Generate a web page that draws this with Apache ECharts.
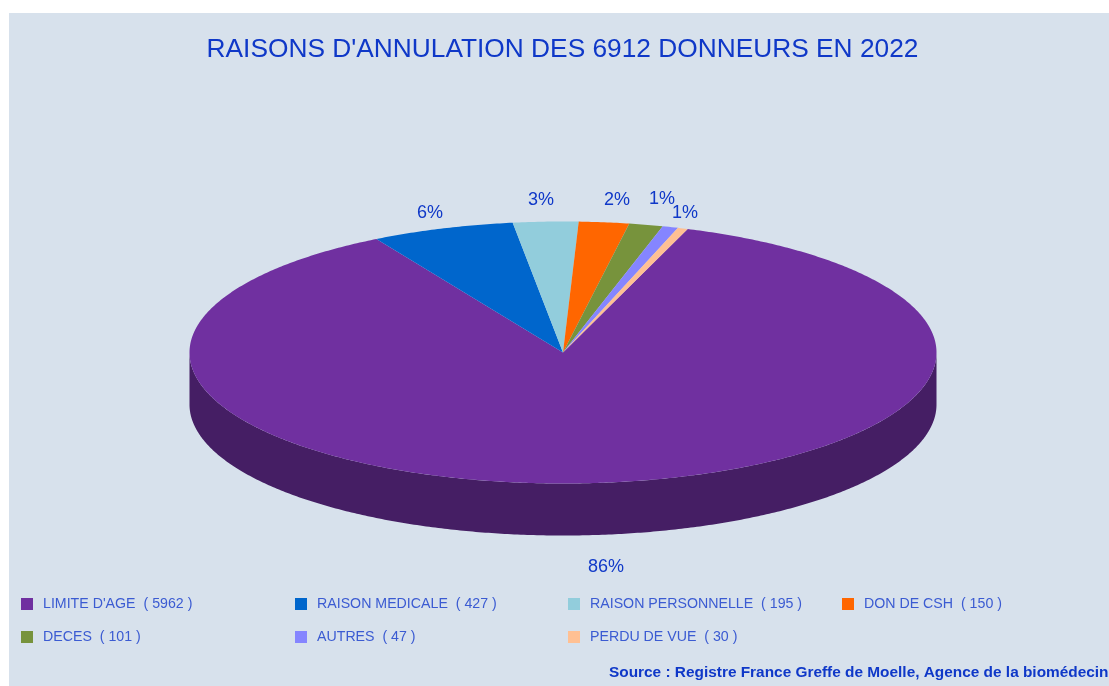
<!DOCTYPE html>
<html>
	<head>
		<meta charset="utf-8">
		<title>Raisons d'annulation</title>
		<style>
			html,body{margin:0;padding:0;background:#fff;}
			#main{width:1109px;height:686px;}
		</style>
	</head>
	<body>
		<div id="main"></div>
		<script src="https://cdn.jsdelivr.net/npm/echarts@6/dist/echarts.min.js"></script>
		<script>
			var categories = ["LIMITE D'AGE",'RAISON MEDICALE','RAISON PERSONNELLE','DON DE CSH','DECES','AUTRES','PERDU DE VUE'];
			var donneurs = [5962,427,195,150,101,47,30];
			var percentLabels = ['86%','6%','3%','2%','1%','1%',''];
			var colors = ['#7030A0','#0066CC','#92CDDC','#FF6600','#77933C','#8585FF','#FFC093'];
			var sideColors = ['#451E64','#003F7F','#5B7F89','#9E3F00','#4A5B25','#52529E','#9E775B'];

			// geometrie du camembert
			var cx = 563, cy = 352.5, rx = 373.5, ry = 131, depth = 52;
			var startDeg = 19.5;
			// centre des etiquettes
			var labelPos = [[606,567],[430,213],[541,200],[617,200],[662,199],[685,213],[0,0]];

			var total = donneurs.reduce(function(a,b){return a + b;},0);

			function rim(deg,dy){
				var a = deg * Math.PI / 180;
				return [cx + rx * Math.sin(a),cy - ry * Math.cos(a) + (dy || 0)];
			}
			function arc(from,to,dy){
				var pts = [],n = Math.max(2,Math.ceil(Math.abs(to - from) * 2));
				for(var i = 0;i <= n;i++){
					pts.push(rim(from + (to - from) * i / n,dy));
				}
				return pts;
			}

			function makeRender(idx){
				return function(params,api){
					var before = 0;
					for(var i = 0;i < idx;i++){
						before += donneurs[i];
					}
					var from = startDeg + before / total * 360,
						to = from + api.value(0) / total * 360,
						children = [];
					// paroi avant : seulement la moitie basse de l'ellipse
					var a = Math.max(from,90),b = Math.min(to,270);
					if(b > a){
						children.push({
							type:'polygon',
							shape:{points:arc(a,b,0).concat(arc(b,a,depth))},
							style:{fill:sideColors[idx]}
						});
					}
					children.push({
						type:'polygon',
						shape:{points:[[cx,cy]].concat(arc(from,to,0))},
						style:{fill:colors[idx]}
					});
					if(percentLabels[idx]){
						children.push({
							type:'text',
							style:{
								x:labelPos[idx][0],
								y:labelPos[idx][1],
								text:percentLabels[idx],
								fill:'#0F38C8',
								font:'18px "Liberation Sans",Arial,sans-serif',
								textAlign:'center',
								textVerticalAlign:'middle'
							}
						});
					}
					return {type:'group',children:children};
				};
			}

			var series = categories.map(function(name,i){
				return {
					name:name,
					type:'custom',
					coordinateSystem:'none',
					silent:true,
					animation:false,
					itemStyle:{color:colors[i]},
					renderItem:makeRender(i),
					data:[[donneurs[i]]]
				};
			});

			function legendCol(x,names){
				return {
					left:x,
					top:597,
					padding:0,
					orient:'vertical',
					icon:'rect',
					itemWidth:12,
					itemHeight:12,
					itemGap:19,
					selectedMode:false,
					data:names,
					formatter:function(name){
						return name + '  ( ' + donneurs[categories.indexOf(name)] + ' )';
					},
					textStyle:{
						color:'#3B5BD2',
						fontSize:14.2,
						padding:[0,0,0,5],
						fontFamily:'"Liberation Sans",Arial,sans-serif'
					}
				};
			}

			var myChart = echarts.init(document.getElementById('main'),null,{renderer:'canvas'});
			myChart.setOption({
				backgroundColor:'#fff',
				animation:false,
				title:[{
					text:"RAISONS D'ANNULATION DES 6912 DONNEURS EN 2022",
					left:557.5,
					top:32,
					textAlign:'center',
					textStyle:{color:'#0F38C8',fontSize:26.3,fontWeight:'normal',fontFamily:'"Liberation Sans",Arial,sans-serif'}
				},{
					text:'Source : Registre France Greffe de Moelle, Agence de la biomédecine',
					left:604,
					top:660,
					textStyle:{color:'#0F38C8',fontSize:15.4,fontWeight:'bold',fontFamily:'"Liberation Sans",Arial,sans-serif'}
				}],
				legend:[
					legendCol(21,[categories[0],categories[4]]),
					legendCol(295,[categories[1],categories[5]]),
					legendCol(568,[categories[2],categories[6]]),
					legendCol(842,[categories[3]])
				],
				graphic:[{
					type:'rect',
					z:-10,
					silent:true,
					shape:{x:9,y:13,width:1100,height:673},
					style:{fill:'#D7E1EC'}
				}],
				series:series
			});
		</script>
	</body>
</html>
